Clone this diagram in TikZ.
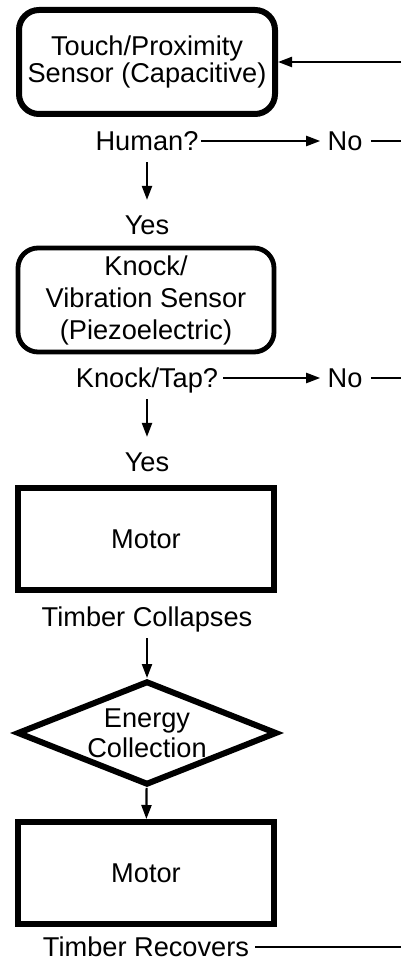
\documentclass[tikz,border=0pt]{standalone}
\usepackage{fontspec}
\setmainfont{Liberation Sans}
\usetikzlibrary{arrows.meta,positioning,shapes.geometric}

\begin{document}
\begin{tikzpicture}[x=0.5pt,y=-0.5pt,
    font=\fontsize{13.6}{15}\selectfont,
    sensorbox/.style={draw,rounded corners=10pt,minimum width=128pt,minimum height=52pt,align=center,inner sep=0pt},
    motorbox/.style={draw,line width=3pt,minimum width=128pt,minimum height=51pt},
    lbl/.style={inner sep=0pt,text height=9.7pt,text depth=0pt},
    arr/.style={line width=1.1pt,-{Triangle[length=7pt,width=5pt]}},
    wire/.style={line width=1.1pt}]
    % frame
    \useasboundingbox (0,0) rectangle (401,962);
    \coordinate (edge) at (401,62);
    % sensors
    \node[sensorbox,line width=3pt,font=\fontsize{13.6}{13.6}\selectfont] (touch) at (147,62) {Touch/Proximity\\Sensor (Capacitive)};
    \node[lbl] (human) at (147,141) {Human?};
    \node[lbl] (no1) at (345,141) {No};
    \node[lbl] (yes1) at (147,225) {Yes};
    \node[sensorbox,line width=2.4pt,font=\fontsize{13.6}{16}\selectfont] (knock) at (146,300) {Knock/\\Vibration Sensor\\(Piezoelectric)};
    \node[lbl] (tap) at (147,378) {Knock/Tap?};
    \node[lbl] (no2) at (345,378) {No};
    \node[lbl] (yes2) at (147,462) {Yes};
    % motor and energy
    \node[motorbox] (motor1) at (146,539) {Motor};
    \node[lbl] (collapse) at (147,617) {Timber Collapses};
    \node[draw,diamond,line width=3pt,aspect=2.46,inner sep=0pt,minimum width=130pt,minimum height=52pt,align=center] (energy) at (147,733) {Energy\\Collection};
    \node[motorbox] (motor2) at (146,873) {Motor};
    \node[lbl] (recover) at (146,947) {Timber Recovers};
    % decisions
    \draw[arr,shorten <=1pt,shorten >=3.5pt] (human) -- (no1);
    \draw[arr,shorten <=5.5pt,shorten >=7.5pt] (human) -- (yes1);
    \draw[arr,shorten <=2.5pt,shorten >=3.5pt] (tap) -- (no2);
    \draw[arr,shorten <=5.5pt,shorten >=7.5pt] (tap) -- (yes2);
    \draw[arr,shorten <=5.5pt] (collapse) -- (energy);
    \draw[arr] (energy) -- (motor2);
    % back to the first sensor
    \draw[wire,shorten <=4pt] (no1.east) -- (no1.east -| edge);
    \draw[wire,shorten <=4pt] (no2.east) -- (no2.east -| edge);
    \draw[wire,shorten <=3pt] (recover.east) -- (recover.east -| edge);
    \draw[arr] (edge) -- (touch);
\end{tikzpicture}
\end{document}
